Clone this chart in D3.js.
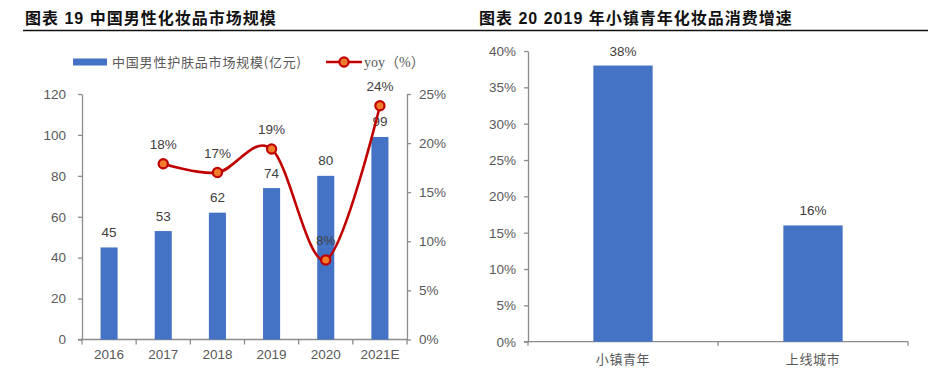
<!DOCTYPE html>
<html>
<head>
<meta charset="utf-8">
<script src="https://cdn.jsdelivr.net/npm/d3@7"></script>
<style>
  body { margin: 0; background: #fff; }
  svg { display: block; }
</style>
</head>
<body>
<svg id="drawing_region"></svg>
<script>
// 图表19 数据
const years = ['2016', '2017', '2018', '2019', '2020', '2021E'];
const market_size = [45, 53, 62, 74, 80, 99];
const yoy = [null, 17.9, 17.0, 19.4, 8.1, 23.8];
const yoy_labels = ['', '18%', '17%', '19%', '8%', '24%'];
const left_ticks = [0, 20, 40, 60, 80, 100, 120];
const right_ticks = [0, 5, 10, 15, 20, 25];

// 图表20 数据
const groups = ['小镇青年', '上线城市'];
const growth = [38, 16];
const growth_ticks = [0, 5, 10, 15, 20, 25, 30, 35, 40];

const BLUE = '#4472C4';
const RED = '#C00000';
const ORANGE = '#F07C2C';
const AXIS = '#8C8C8C';
const TICK_TEXT = '#595959';
const LABEL_TEXT = '#404040';
const NUM_FONT = '"Liberation Sans", Arial, sans-serif';
const CJK_FONT = '"Noto Sans CJK SC", sans-serif';

const svg = d3.select('#drawing_region')
    .attr('width', 928)
    .attr('height', 375);

// titles
svg.append('text')
    .attr('x', 25).attr('y', 24)
    .attr('font-family', '"Liberation Sans", "Noto Sans CJK SC", sans-serif')
    .attr('font-weight', 'bold')
    .attr('font-size', 16)
    .attr('letter-spacing', 1)
    .attr('fill', '#111')
    .text('图表 19 中国男性化妆品市场规模');

svg.append('text')
    .attr('x', 479).attr('y', 24)
    .attr('font-family', '"Liberation Sans", "Noto Sans CJK SC", sans-serif')
    .attr('font-weight', 'bold')
    .attr('font-size', 16)
    .attr('letter-spacing', 1)
    .attr('fill', '#111')
    .text('图表 20 2019 年小镇青年化妆品消费增速');

svg.append('line')
    .attr('x1', 23).attr('x2', 470).attr('y1', 30.5).attr('y2', 30.5)
    .attr('stroke', '#111').attr('stroke-width', 1.6);
svg.append('line')
    .attr('x1', 470).attr('x2', 928).attr('y1', 30.5).attr('y2', 30.5)
    .attr('stroke', '#111').attr('stroke-width', 1.6);

function styleAxis(g){
    g.selectAll('path, line').attr('stroke', AXIS).attr('stroke-width', 1.3);
    g.selectAll('text')
        .attr('fill', TICK_TEXT)
        .attr('font-family', NUM_FONT)
        .attr('font-size', 13.5);
}

// ---------- 图表19 ----------
{
    const left = 82, right = 407, top = 94, bottom = 339.5;

    const xscale = d3.scaleBand().domain(years).range([left, right]).padding(0);
    const yscale = d3.scaleLinear().domain([0, 120]).range([bottom, top]);
    const y2scale = d3.scaleLinear().domain([0, 25]).range([bottom, top]);
    const barw = xscale.bandwidth() * 0.315;

    const chart = svg.append('g');

    // y axes
    const yaxis_group = chart.append('g')
        .attr('transform', `translate(${left},0)`)
        .call(d3.axisLeft(yscale).tickValues(left_ticks).tickSize(4).tickSizeOuter(0).tickPadding(12));
    styleAxis(yaxis_group);

    const y2axis_group = chart.append('g')
        .attr('transform', `translate(${right},0)`)
        .call(d3.axisRight(y2scale).tickValues(right_ticks).tickSize(4).tickSizeOuter(0)
            .tickPadding(8).tickFormat(d => d + '%'));
    styleAxis(y2axis_group);

    // x axis: labels centered, ticks between categories
    const xaxis_group = chart.append('g')
        .attr('transform', `translate(0,${bottom})`)
        .call(d3.axisBottom(xscale).tickSize(0).tickSizeOuter(0).tickPadding(10));
    styleAxis(xaxis_group);
    xaxis_group.select('.domain').attr('d', `M${left - 4},0H${right}`);
    xaxis_group.selectAll('.sep')
        .data(years.map(d => xscale(d)).concat([right]))
        .join('line')
        .attr('class', 'sep')
        .attr('x1', d => d).attr('x2', d => d)
        .attr('y1', 0).attr('y2', 5)
        .attr('stroke', AXIS).attr('stroke-width', 1.3);

    // bars
    chart.append('g').selectAll('rect')
        .data(years)
        .join('rect')
        .attr('x', (d, i) => xscale(d) + (xscale.bandwidth() - barw) / 2)
        .attr('y', (d, i) => yscale(market_size[i]))
        .attr('width', barw)
        .attr('height', (d, i) => bottom - yscale(market_size[i]))
        .attr('fill', BLUE);

    // bar labels
    chart.append('g').selectAll('text')
        .data(years)
        .join('text')
        .attr('x', d => xscale(d) + xscale.bandwidth() / 2)
        .attr('y', (d, i) => yscale(market_size[i]) - 10.5)
        .attr('text-anchor', 'middle')
        .attr('font-family', NUM_FONT)
        .attr('font-size', 13.5)
        .attr('fill', LABEL_TEXT)
        .text((d, i) => market_size[i]);

    // yoy labels
    chart.append('g').selectAll('text')
        .data(years.filter((d, i) => yoy[i] !== null))
        .join('text')
        .attr('x', d => xscale(d) + xscale.bandwidth() / 2)
        .attr('y', d => y2scale(yoy[years.indexOf(d)]) - 14.5)
        .attr('text-anchor', 'middle')
        .attr('font-family', NUM_FONT)
        .attr('font-size', 13.5)
        .attr('fill', LABEL_TEXT)
        .text(d => yoy_labels[years.indexOf(d)]);

    // yoy line
    const pts = years.map((d, i) => ({x: xscale(d) + xscale.bandwidth() / 2, v: yoy[i]}))
        .filter(p => p.v !== null);
    const line = d3.line()
        .x(p => p.x)
        .y(p => y2scale(p.v))
        .curve(d3.curveCardinal.tension(0));
    chart.append('path')
        .datum(pts)
        .attr('d', line)
        .attr('fill', 'none')
        .attr('stroke', RED)
        .attr('stroke-width', 2.6);

    chart.append('g').selectAll('circle')
        .data(pts)
        .join('circle')
        .attr('cx', p => p.x)
        .attr('cy', p => y2scale(p.v))
        .attr('r', 4.6)
        .attr('fill', ORANGE)
        .attr('stroke', RED)
        .attr('stroke-width', 2.2);

    // legend
    const legend = chart.append('g');
    legend.append('rect')
        .attr('x', 73).attr('y', 58.5).attr('width', 34).attr('height', 7)
        .attr('fill', BLUE);
    legend.append('text')
        .attr('x', 112).attr('y', 66.5)
        .attr('font-family', CJK_FONT)
        .attr('font-size', 13)
        .attr('letter-spacing', 0.8)
        .attr('fill', TICK_TEXT)
        .text('中国男性护肤品市场规模(亿元)');
    legend.append('line')
        .attr('x1', 326).attr('x2', 362).attr('y1', 62).attr('y2', 62)
        .attr('stroke', RED).attr('stroke-width', 2.6);
    legend.append('circle')
        .attr('cx', 344).attr('cy', 62).attr('r', 4.6)
        .attr('fill', ORANGE).attr('stroke', RED).attr('stroke-width', 2.2);
    legend.append('text')
        .attr('x', 364).attr('y', 66.5)
        .attr('font-family', '"Liberation Serif", "Noto Sans CJK SC", serif')
        .attr('font-size', 14)
        .attr('fill', TICK_TEXT)
        .text('yoy（%）');
}

// ---------- 图表20 ----------
{
    const left = 528, right = 908, top = 51, bottom = 341.7;

    const xscale = d3.scaleBand().domain(groups).range([left, right]).padding(0);
    const yscale = d3.scaleLinear().domain([0, 40]).range([bottom, top]);
    const barw = xscale.bandwidth() * 0.312;

    const chart = svg.append('g');

    const yaxis_group = chart.append('g')
        .attr('transform', `translate(${left},0)`)
        .call(d3.axisLeft(yscale).tickValues(growth_ticks).tickSize(4).tickSizeOuter(0)
            .tickPadding(8).tickFormat(d => d + '%'));
    styleAxis(yaxis_group);

    const xaxis_group = chart.append('g')
        .attr('transform', `translate(0,${bottom})`)
        .call(d3.axisBottom(xscale).tickSize(0).tickSizeOuter(0).tickPadding(13));
    styleAxis(xaxis_group);
    xaxis_group.selectAll('text')
        .attr('font-family', CJK_FONT)
        .attr('font-size', 13)
        .attr('letter-spacing', 0.6);
    xaxis_group.select('.domain').attr('d', `M${left - 4},0H${right}`);
    xaxis_group.selectAll('.sep')
        .data(groups.map(d => xscale(d)).concat([right]))
        .join('line')
        .attr('class', 'sep')
        .attr('x1', d => d).attr('x2', d => d)
        .attr('y1', 0).attr('y2', 4)
        .attr('stroke', AXIS).attr('stroke-width', 1.3);

    chart.append('g').selectAll('rect')
        .data(groups)
        .join('rect')
        .attr('x', d => xscale(d) + (xscale.bandwidth() - barw) / 2)
        .attr('y', (d, i) => yscale(growth[i]))
        .attr('width', barw)
        .attr('height', (d, i) => bottom - yscale(growth[i]))
        .attr('fill', BLUE);

    chart.append('g').selectAll('text')
        .data(groups)
        .join('text')
        .attr('x', d => xscale(d) + xscale.bandwidth() / 2)
        .attr('y', (d, i) => yscale(growth[i]) - 10)
        .attr('text-anchor', 'middle')
        .attr('font-family', NUM_FONT)
        .attr('font-size', 13.5)
        .attr('fill', LABEL_TEXT)
        .text((d, i) => growth[i] + '%');
}
</script>
</body>
</html>
